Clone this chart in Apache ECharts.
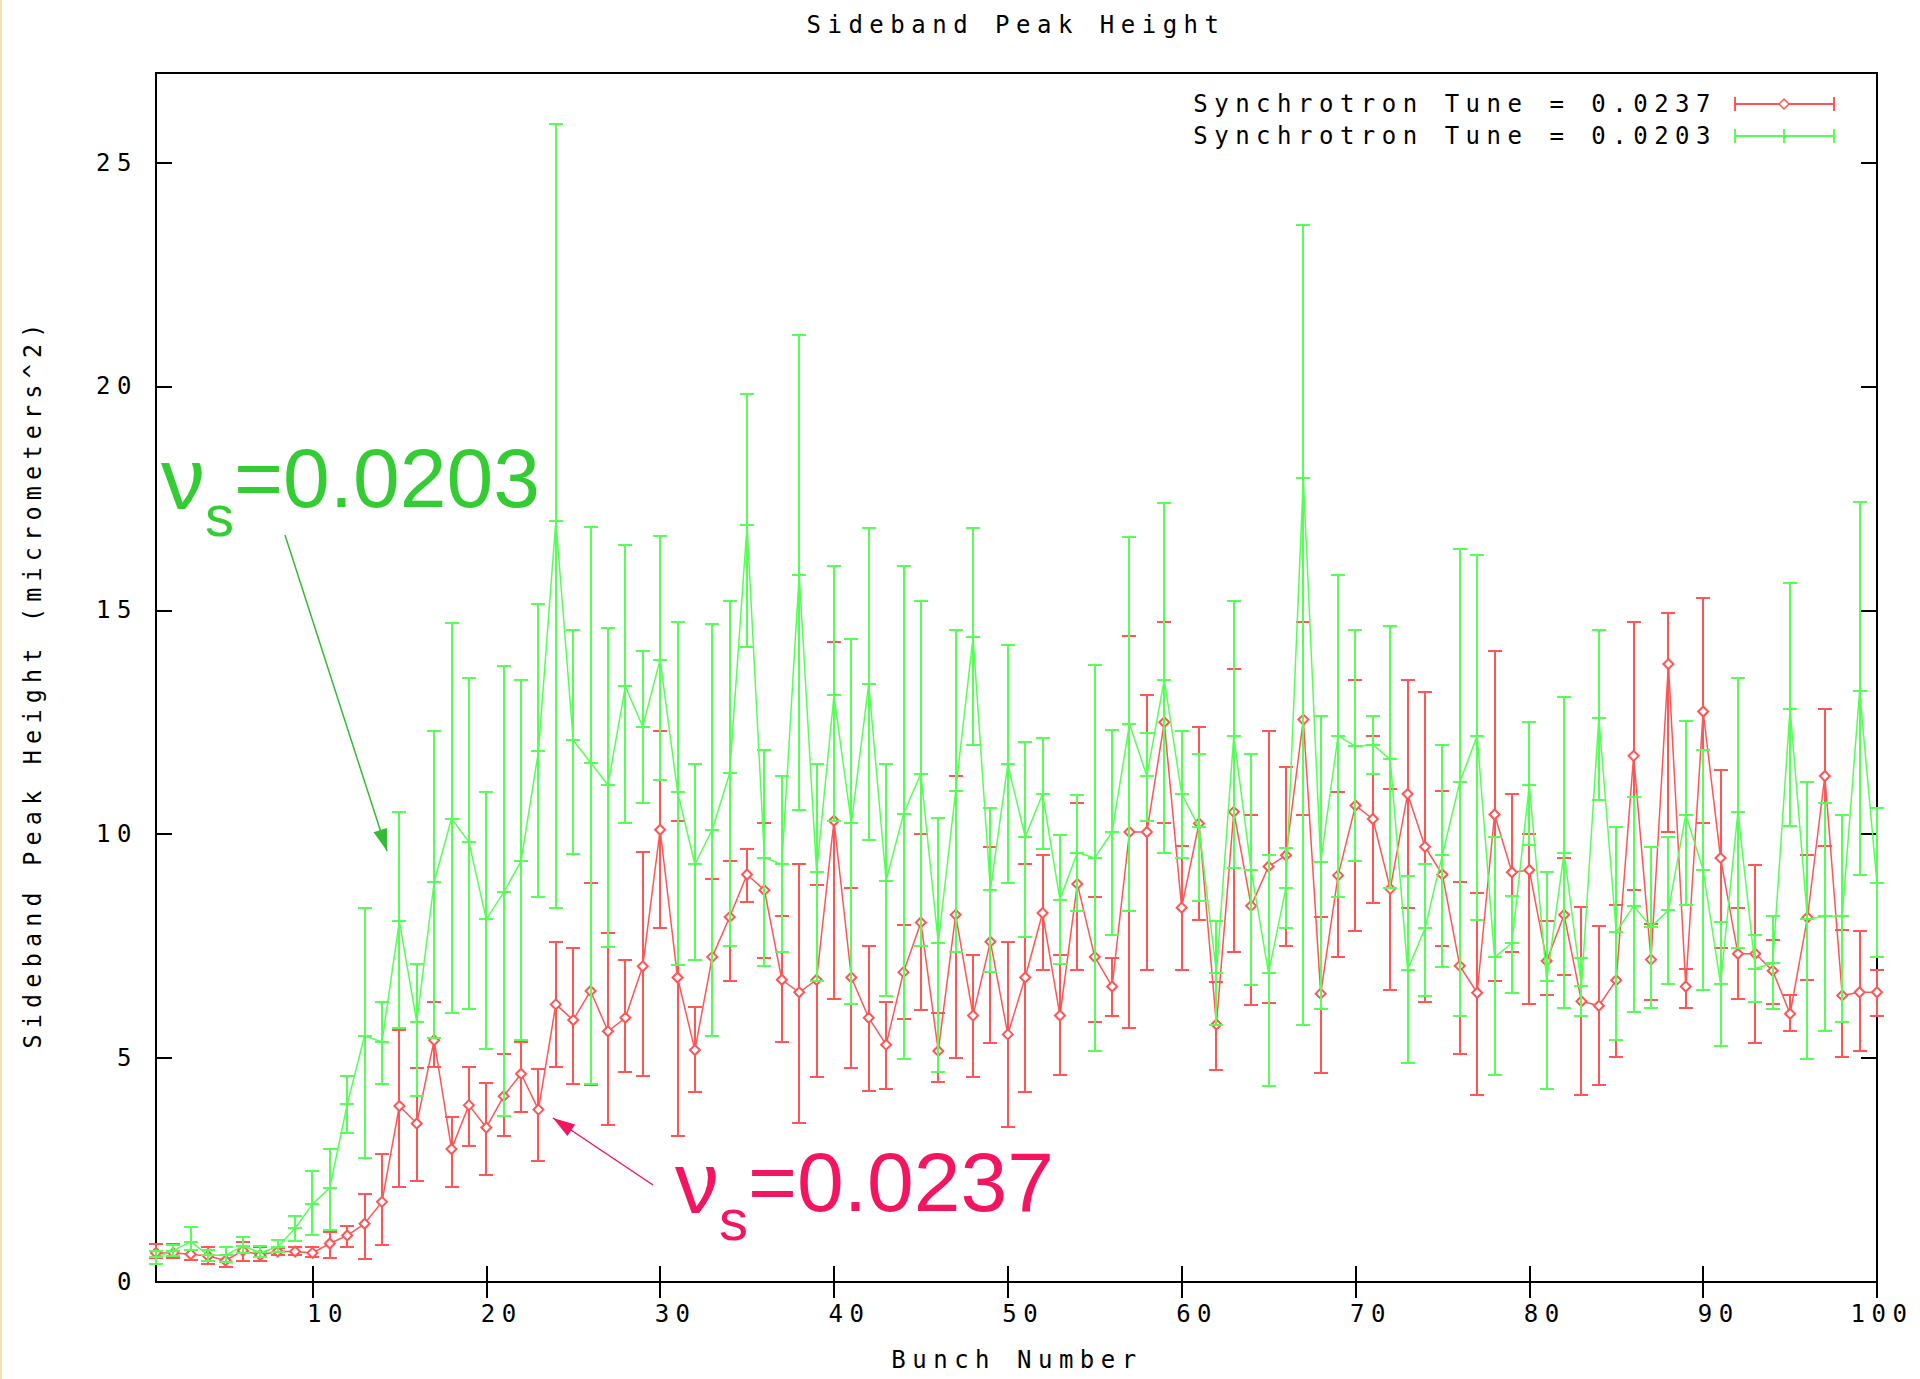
<!DOCTYPE html>
<html><head><meta charset="utf-8">
<script src="https://cdn.jsdelivr.net/npm/echarts@6/dist/echarts.min.js"></script>
<style>
html,body{margin:0;padding:0;background:#fff;}
#chart{width:1920px;height:1379px;}
#chart text[style*="Mono"]{letter-spacing:6.5px;}
</style></head><body><div id="chart"></div><script>
const bunches = [1,2,3,4,5,6,7,8,9,10,11,12,13,14,15,16,17,18,19,20,21,22,23,24,25,26,27,28,29,30,31,32,33,34,35,36,37,38,39,40,41,42,43,44,45,46,47,48,49,50,51,52,53,54,55,56,57,58,59,60,61,62,63,64,65,66,67,68,69,70,71,72,73,74,75,76,77,78,79,80,81,82,83,84,85,86,87,88,89,90,91,92,93,94,95,96,97,98,99,100];

const redValue = [0.65,0.65,0.62,0.58,0.48,0.70,0.60,0.68,0.68,0.65, 0.86,1.04,1.30,1.79,3.93,3.54,5.40,2.97,3.95,3.45, 4.15,4.65,3.85,6.20,5.85,6.50,5.60,5.90,7.05,10.1, 6.80,5.18,7.26,8.15,9.10,8.75,6.75,6.47,6.75,10.3, 6.80,5.90,5.30,6.92,8.03,5.16,8.20,5.95,7.60,5.53, 6.80,8.24,5.95,8.89,7.26,6.60,10.05,10.05,12.5,8.36, 10.24,5.75,10.5,8.40,9.28,9.53,12.56,6.44,9.08,10.64, 10.34,8.78,10.9,9.72,9.10,7.06,6.46,10.44,9.15,9.20, 7.17,8.20,6.27,6.17,6.74,11.75,7.20,13.8,6.60,12.74, 9.47,7.33,7.33,6.95,5.99,8.14,11.3,6.40,6.47,6.47];
const redLow = [0.53,0.53,0.50,0.40,0.34,0.48,0.48,0.60,0.60,0.55, 0.53,0.78,0.52,0.83,2.13,2.26,4.80,2.13,3.04,2.40, 3.25,3.80,2.70,4.80,4.43,4.40,3.50,4.70,4.60,7.90, 3.27,4.24,5.50,6.73,8.48,7.24,5.36,3.54,4.57,6.33, 4.78,4.26,4.32,5.88,6.08,4.46,5.00,4.57,5.34,3.47, 4.25,6.97,4.62,6.97,5.80,5.95,5.67,6.97,10.24,6.97, 8.08,4.74,7.38,6.19,6.23,7.50,10.43,4.67,7.25,7.83, 8.47,6.52,8.36,6.25,7.50,5.09,4.18,6.73,7.38,6.20, 6.40,6.85,4.17,4.39,5.03,8.76,6.30,10.04,6.13,10.25, 7.45,6.32,5.34,6.20,5.60,6.74,9.74,5.03,5.16,5.94];
const redHigh = [0.85,0.85,0.72,0.79,0.60,0.90,0.78,0.75,0.79,0.78, 1.12,1.25,1.96,2.86,5.62,4.77,6.26,3.69,4.80,4.45, 5.10,5.35,4.75,7.60,7.45,8.90,7.80,7.20,9.60,12.3, 10.3,6.15,9.00,9.40,9.66,10.24,8.17,9.33,8.87,14.3, 8.80,7.50,6.25,7.97,10.0,6.00,11.3,7.30,9.72,7.59, 9.33,9.54,7.30,10.7,8.60,7.24,14.43,13.1,14.74,9.73, 12.4,6.70,13.7,10.43,12.3,11.5,14.73,8.16,10.95,13.44, 12.2,11.02,13.44,13.18,10.96,8.94,8.68,14.09,10.9,10.0, 8.06,9.48,8.37,7.96,8.41,14.75,8.00,14.94,7.00,15.28, 11.43,8.36,9.32,7.63,6.42,9.53,12.8,7.85,7.84,6.97];

const greenValue = [0.55,0.70,0.90,0.60,0.60,0.80,0.66,0.78,1.20,1.74, 2.10,3.97,5.50,5.36,8.06,5.80,8.93,10.35,9.83,8.10, 8.70,9.40,11.85,17.0,12.1,11.6,11.1,13.3,12.4,13.9, 10.95,9.33,10.1,11.36,16.9,9.48,9.33,15.8,9.15,13.1, 10.24,13.36,8.96,10.45,11.35,7.57,10.96,14.4,8.75,11.56, 9.94,10.9,8.54,9.59,9.47,10.05,12.46,11.3,13.45,10.9, 10.16,6.90,12.2,9.20,6.90,8.80,17.95,9.38,12.2,11.96, 12.0,11.67,6.97,7.90,9.54,11.16,12.2,7.25,7.57,11.1, 6.73,9.59,6.60,12.6,7.81,8.40,7.93,8.30,10.44,9.20, 6.66,10.5,7.00,7.12,12.8,8.10,8.17,8.17,13.2,8.90];
const greenLow = [0.40,0.58,0.72,0.48,0.45,0.65,0.55,0.66,0.92,1.05, 1.16,3.32,2.76,4.42,5.67,4.16,5.46,6.00,6.10,5.20, 3.70,5.40,8.60,8.35,9.55,4.43,7.48,10.26,10.7,11.2, 7.07,7.18,5.50,7.50,14.17,7.05,7.38,10.53,6.73,10.3, 6.20,9.87,6.39,4.97,7.50,4.69,7.38,12.0,6.92,8.90, 7.71,9.66,7.10,8.28,5.16,7.76,8.29,10.3,9.58,9.46, 8.50,5.73,9.24,6.64,4.38,7.90,5.73,6.10,8.60,9.40, 11.35,8.80,4.90,6.38,7.04,5.95,8.08,4.63,6.46,9.75, 4.30,6.13,5.95,10.77,5.40,6.02,6.13,6.66,8.42,6.53, 5.28,7.45,6.26,6.09,10.18,4.97,5.60,5.80,9.08,7.25];
const greenHigh = [0.70,0.82,1.22,0.72,0.78,1.00,0.80,0.93,1.47,2.47, 2.98,4.60,8.36,6.26,10.5,7.10,12.3,14.72,13.5,10.95, 13.75,13.45,15.15,25.85,14.55,16.85,14.6,16.45,14.1,16.65, 14.75,11.56,14.7,15.2,19.84,11.88,11.3,21.14,11.56,16.0, 14.36,16.84,11.56,16.0,15.2,10.37,14.55,16.83,10.58,14.23, 12.07,12.14,9.98,10.88,13.77,12.33,16.63,12.27,17.4,12.3, 11.8,8.06,15.2,11.8,9.53,9.70,23.6,12.64,15.8,14.55, 12.65,14.64,9.07,9.33,12.0,16.36,16.24,9.94,8.62,12.5, 9.15,13.06,7.23,14.56,10.17,10.83,9.72,9.93,12.52,11.88, 8.03,13.5,7.76,8.17,15.6,11.16,10.7,10.44,17.41,10.58];

const xTickValues = [10,20,30,40,50,60,70,80,90,100];
const yTickValues = [0,5,10,15,20,25];
const seriesNames = ['Synchrotron Tune = 0.0237','Synchrotron Tune = 0.0203'];
const annotationTunes = ['0.0203','0.0237'];
const titleText = 'Sideband Peak Height';
const xAxisName = 'Bunch Number';
const yAxisName = 'Sideband Peak Height (micrometers^2)';

const MONO = '"DejaVu Sans Mono", monospace';
const SANS = '"Liberation Sans", Arial, sans-serif';
const RED = '#ff5555', GREEN = '#55ff55';
const GREEN_TXT = '#33cc33', PINK = '#f5145f';

function rows(v, lo, hi) { return bunches.map((b, i) => [b, v[i], lo[i], hi[i]]); }
function pts(v) { return bunches.map((b, i) => [b, v[i]]); }

function errRender(color, plus) {
  return function (params, api) {
    const x = api.value(0);
    const pV = api.coord([x, api.value(1)]);
    const pLo = api.coord([x, api.value(2)]);
    const pHi = api.coord([x, api.value(3)]);
    const cx = Math.round(pV[0]);
    const yV = Math.round(pV[1]), yLo = Math.round(pLo[1]), yHi = Math.round(pHi[1]);
    const w = 7, st = { stroke: color, lineWidth: 2 };
    const ch = [
      { type: 'line', shape: { x1: cx, y1: yLo, x2: cx, y2: yHi }, style: st },
      { type: 'line', shape: { x1: cx - w, y1: yLo, x2: cx + w, y2: yLo }, style: st },
      { type: 'line', shape: { x1: cx - w, y1: yHi, x2: cx + w, y2: yHi }, style: st }
    ];
    if (plus) ch.push({ type: 'line', shape: { x1: cx - w, y1: yV, x2: cx + w, y2: yV }, style: st });
    return { type: 'group', children: ch };
  };
}

function arrowHead(x1, y1, x2, y2, len, half) {
  const dx = x2 - x1, dy = y2 - y1, L = Math.hypot(dx, dy), ux = dx / L, uy = dy / L;
  const bx = x2 - ux * len, by = y2 - uy * len;
  return [[x2, y2], [bx - uy * half, by + ux * half], [bx + uy * half, by - ux * half]];
}

function monoText(text, x, y, align, rot, sx) {
  return { type: 'text', x: x, y: y, rotation: rot || 0, scaleX: sx || 1, silent: true,
    style: { text: text, font: '24px ' + MONO, fill: '#000', align: align, verticalAlign: 'middle' } };
}
function tuneText(tune, x, y, color) {
  return { type: 'text', x: x, y: y, silent: true,
    style: {
      text: '{nu|\u03bd}{sub|s}{t|=' + tune + '}',
      align: 'left', verticalAlign: 'middle',
      rich: {
        nu: { font: '88px ' + SANS, fill: color },
        sub: { font: '58px ' + SANS, fill: color, padding: [74, 0, 0, 0] },
        t: { font: '84px ' + SANS, fill: color }
      }
    } };
}
function seg(x1, y1, x2, y2, color, w) {
  return { type: 'line', silent: true, shape: { x1: x1, y1: y1, x2: x2, y2: y2 }, style: { stroke: color, lineWidth: w || 2 } };
}

const chart = echarts.init(document.getElementById('chart'), null, { renderer: 'svg', width: 1920, height: 1379 });

const axisCommon = { type: 'value', axisLine: { show: false }, splitLine: { show: false } };
const tickStyle = { show: true, inside: true, length: 16, lineStyle: { color: '#000', width: 2 } };

const gA1 = [285, 535], gA2 = [387, 851];
const rA1 = [653, 1185], rA2 = [553, 1118];

const graphics = [
  { type: 'rect', silent: true, shape: { x: 0, y: 0, width: 2, height: 1379 }, style: { fill: '#f6dfb0' } },
  monoText(titleText, 1016, 25, 'center'),
  monoText(xAxisName, 1017, 1360, 'center'),
  monoText(yAxisName, 33, 683, 'center', Math.PI / 2, 0.97),
  monoText(seriesNames[0], 1717, 104, 'right'),
  monoText(seriesNames[1], 1717, 136, 'right'),
  seg(1735, 104, 1834, 104, RED), seg(1735, 97, 1735, 111, RED), seg(1834, 97, 1834, 111, RED),
  { type: 'polygon', silent: true, shape: { points: [[1784, 99], [1789, 104], [1784, 109], [1779, 104]] }, style: { fill: '#fff', stroke: RED, lineWidth: 1.5 } },
  seg(1735, 136, 1834, 136, GREEN), seg(1735, 129, 1735, 143, GREEN), seg(1834, 129, 1834, 143, GREEN), seg(1784, 129, 1784, 143, GREEN),
  tuneText(annotationTunes[0], 161, 478, GREEN_TXT),
  tuneText(annotationTunes[1], 675, 1182, PINK),
  seg(gA1[0], gA1[1], gA2[0], gA2[1], '#33bb33', 1.5),
  { type: 'polygon', silent: true, shape: { points: arrowHead(gA1[0], gA1[1], gA2[0], gA2[1], 22, 7) }, style: { fill: '#33bb33' } },
  seg(rA1[0], rA1[1], rA2[0], rA2[1], PINK, 1.5),
  { type: 'polygon', silent: true, shape: { points: arrowHead(rA1[0], rA1[1], rA2[0], rA2[1], 22, 7) }, style: { fill: PINK } }
];

chart.setOption({
  animation: false,
  backgroundColor: '#fff',
  grid: { left: 156, right: 43, top: 73, bottom: 97, show: true, borderColor: '#000', borderWidth: 2, backgroundColor: 'transparent', outerBoundsMode: 'none' },
  xAxis: [
    Object.assign({}, axisCommon, { min: 1, max: 100, position: 'bottom',
      axisTick: Object.assign({}, tickStyle, { customValues: xTickValues }),
      axisLabel: { customValues: xTickValues, formatter: v => (v < 100 ? '\u00a0' : '') + v, fontFamily: MONO, fontSize: 24, color: '#000', margin: 20, padding: [0, 0, 0, 10] } }),
    Object.assign({}, axisCommon, { min: 1, max: 100, position: 'top',
      axisTick: Object.assign({}, tickStyle, { customValues: xTickValues }),
      axisLabel: { show: false } })
  ],
  yAxis: [
    Object.assign({}, axisCommon, { min: 0, max: 27, position: 'left',
      axisTick: Object.assign({}, tickStyle, { customValues: yTickValues }),
      axisLabel: { customValues: yTickValues, fontFamily: MONO, fontSize: 24, color: '#000', margin: 18 } }),
    Object.assign({}, axisCommon, { min: 0, max: 27, position: 'right',
      axisTick: Object.assign({}, tickStyle, { customValues: yTickValues }),
      axisLabel: { show: false } })
  ],
  series: [
    { type: 'custom', name: seriesNames[0], renderItem: errRender(RED, false), data: rows(redValue, redLow, redHigh), encode: { x: 0, y: [1, 2, 3] }, z: 2, silent: true },
    { type: 'line', name: seriesNames[0], data: pts(redValue), symbol: 'emptyDiamond', symbolSize: [10, 10], showAllSymbol: true,
      lineStyle: { color: RED, width: 1.5 }, itemStyle: { color: RED, borderWidth: 1.5 }, z: 3, silent: true },
    { type: 'custom', name: seriesNames[1], renderItem: errRender(GREEN, true), data: rows(greenValue, greenLow, greenHigh), encode: { x: 0, y: [1, 2, 3] }, z: 4, silent: true },
    { type: 'line', name: seriesNames[1], data: pts(greenValue), symbol: 'none',
      lineStyle: { color: GREEN, width: 1.5 }, z: 5, silent: true }
  ],
  graphic: { elements: graphics }
});

function fixSpacing() {
  document.querySelectorAll('#chart text').forEach(t => {
    const ff = getComputedStyle(t).fontFamily || '';
    if (ff.indexOf('Mono') >= 0) t.style.letterSpacing = '6.5px';
  });
}
fixSpacing();
setTimeout(fixSpacing, 50);
chart.on('finished', fixSpacing);
</script></body></html>
